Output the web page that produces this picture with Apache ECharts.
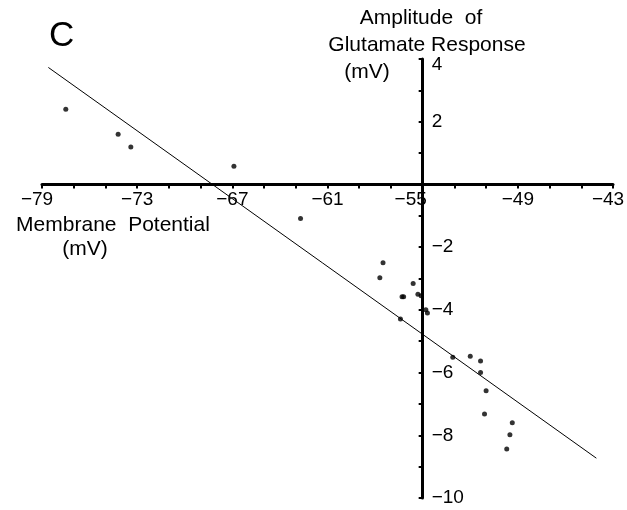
<!DOCTYPE html>
<html>
<head>
<meta charset="utf-8">
<script src="https://cdn.jsdelivr.net/npm/echarts@6/dist/echarts.min.js"></script>
<style>
  html, body { margin: 0; padding: 0; background: #fff; }
  #chart { width: 627px; height: 510px; }
</style>
</head>
<body>
<div id="chart"></div>
<script>
// membrane potential (mV) vs amplitude of glutamate response (mV)
var potential = [-77.5, -74.2, -73.4, -66.9, -62.7, -57.5, -57.7, -55.6, -56.3, -56.2, -55.3, -55.1,
                 -54.8, -54.7, -56.4, -53.1, -52.0, -51.35, -51.35, -51.0, -51.1, -49.35, -49.5, -49.7];
var amplitude = [2.4, 1.6, 1.19, 0.58, -1.09, -2.5, -2.98, -3.16, -3.58, -3.58, -3.5, -3.55,
                 -4.0, -4.1, -4.29, -5.51, -5.48, -5.63, -6.0, -6.58, -7.32, -7.6, -7.98, -8.44];
var fitX = [-78.6, -44.05];
var fitY = [3.73, -8.73];

var xMin = -79, xMax = -43, yMin = -10, yMax = 4;
var yAxisCross = -55;
var xTicks = [-79, -77, -75, -73, -71, -69, -67, -65, -63, -61, -59, -57, -55, -53, -51, -49, -47, -45, -43];
var xLabels = [-79, -73, -67, -61, -55, -49, -43];
var yTicks = [-10, -9, -8, -7, -6, -5, -4, -3, -2, -1, 0, 1, 2, 3, 4];
var yLabels = [-10, -8, -6, -4, -2, 2, 4];

var font = "'Liberation Sans', Arial, sans-serif";

function minus(v) {
  return String(v).replace('-', '\u2212');
}

var points = potential.map(function (x, i) { return [x, amplitude[i]]; });
var fitLine = fitX.map(function (x, i) { return [x, fitY[i]]; });

var W = 627, H = 510;
var gLeft = 42, gRight = 14, gTop = 59, gBottom = 12;
var plotW = W - gLeft - gRight, plotH = H - gTop - gBottom;
// where the two axes cross, in pixels of the main grid
var zeroY = gTop + plotH * yMax / (yMax - yMin);
var crossX = gLeft + plotW * (yAxisCross - xMin) / (xMax - xMin);

// some x labels are nudged left of their tick (gap in px after the text)
function nudge(v) {
  v = parseFloat(v);
  if (v === yAxisCross) return 24;
  if (v === xMin || v === xMax) return 10;
  return 0;
}

var myChart = echarts.init(document.getElementById('chart'));
var option = {
  backgroundColor: '#fff',
  animation: false,
  grid: [
    { left: gLeft, right: gRight, top: gTop, bottom: gBottom, containLabel: false, outerBoundsMode: 'none' },
    { left: gLeft, right: gRight, top: gTop, height: zeroY - gTop, containLabel: false, outerBoundsMode: 'none' },
    { left: crossX, right: gRight, top: gTop, bottom: gBottom, containLabel: false, outerBoundsMode: 'none' }
  ],
  xAxis: [
    { gridIndex: 0, type: 'value', min: xMin, max: xMax, show: false },
    {
      gridIndex: 1, type: 'value', min: xMin, max: xMax, position: 'bottom',
      splitLine: { show: false },
      axisLine: { onZero: false, lineStyle: { color: '#000', width: 3 } },
      axisTick: { customValues: xTicks, length: 4, lineStyle: { color: '#000', width: 2 } },
      axisLabel: {
        customValues: xLabels, margin: 6, color: '#000', fontFamily: font, fontSize: 19,
        formatter: function (v) {
          var gap = nudge(v);
          if (gap === 24) return '{t|' + minus(v) + '}{sp|\u00a0}';
          if (gap === 10) return '{t|' + minus(v) + '}{sm|\u00a0}';
          return minus(v);
        },
        rich: {
          t: { fontFamily: font, fontSize: 19, color: '#000' },
          sp: { fontFamily: font, fontSize: 19, width: 24 },
          sm: { fontFamily: font, fontSize: 19, width: 10 }
        }
      }
    },
    { gridIndex: 2, type: 'value', min: yAxisCross, max: xMax, show: false }
  ],
  yAxis: [
    { gridIndex: 0, type: 'value', min: yMin, max: yMax, show: false },
    { gridIndex: 1, type: 'value', min: 0, max: yMax, show: false },
    {
      gridIndex: 2, type: 'value', min: yMin, max: yMax, position: 'left',
      splitLine: { show: false },
      axisLine: { onZero: false, lineStyle: { color: '#000', width: 3 } },
      axisTick: { customValues: yTicks, length: 4, lineStyle: { color: '#000', width: 2 } },
      axisLabel: {
        customValues: yLabels, inside: true, margin: 9, color: '#000', fontFamily: font, fontSize: 19,
        formatter: function (v) {
          // top label hangs just below the axis end
          if (Math.abs(parseFloat(v) - yMax) < 1e-6) return '{top|' + minus(v) + '}';
          return minus(v);
        },
        rich: {
          top: { fontFamily: font, fontSize: 19, color: '#000', padding: [12, 0, 0, 0] }
        }
      }
    }
  ],
  graphic: [
    { type: 'text', left: 49, top: 19, style: { text: 'C', fontFamily: font, fontSize: 35, fill: '#000' } },
    { type: 'text', x: 421, y: 18, style: { text: 'Amplitude  of', fontFamily: font, fontSize: 21, fill: '#000', align: 'center', verticalAlign: 'middle' } },
    { type: 'text', x: 427, y: 45, style: { text: 'Glutamate Response', fontFamily: font, fontSize: 21, fill: '#000', align: 'center', verticalAlign: 'middle' } },
    { type: 'text', x: 367, y: 72, style: { text: '(mV)', fontFamily: font, fontSize: 21, fill: '#000', align: 'center', verticalAlign: 'middle' } },
    { type: 'text', x: 113, y: 225, style: { text: 'Membrane  Potential', fontFamily: font, fontSize: 21, fill: '#000', align: 'center', verticalAlign: 'middle' } },
    { type: 'text', x: 85, y: 249, style: { text: '(mV)', fontFamily: font, fontSize: 21, fill: '#000', align: 'center', verticalAlign: 'middle' } }
  ],
  series: [
    {
      type: 'line', xAxisIndex: 0, yAxisIndex: 0, data: fitLine, symbol: 'none', silent: true,
      lineStyle: { color: '#000', width: 1 }
    },
    {
      type: 'scatter', xAxisIndex: 0, yAxisIndex: 0, data: points, symbol: 'circle', symbolSize: 5,
      itemStyle: { color: '#000' }
    }
  ]
};
myChart.setOption(option);
</script>
</body>
</html>
